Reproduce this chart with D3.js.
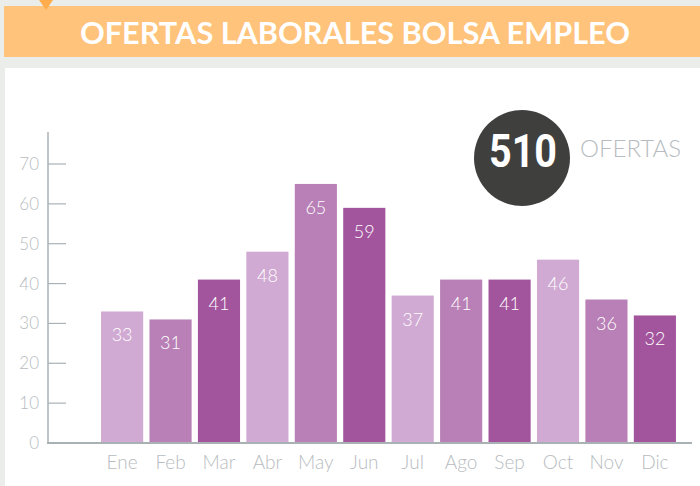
<!DOCTYPE html>
<html><head><meta charset="utf-8">
<script src="https://cdn.jsdelivr.net/npm/d3@7"></script>
<style>html,body{margin:0;padding:0;background:#ebedeb;}svg{display:block;}</style>
</head><body>
<script>
const months = ["Ene","Feb","Mar","Abr","May","Jun","Jul","Ago","Sep","Oct","Nov","Dic"];
const values = [33,31,41,48,65,59,37,41,41,46,36,32];
const yTicks = [0,10,20,30,40,50,60,70];
const palette = ["#d0aad2","#b880b6","#a2559d"];
const title = "OFERTAS LABORALES BOLSA EMPLEO";
const total = d3.sum(values);

const W = 700, H = 486;
const svg = d3.select("body").append("svg").attr("width", W).attr("height", H);
svg.append("rect").attr("width", W).attr("height", H).attr("fill", "#ebedeb");

// banner
svg.append("rect").attr("x", 4).attr("y", 6).attr("width", 696).attr("height", 51).attr("fill", "#ffc37c");
svg.append("path").attr("d", "M39,0 L53,0 L46,10 Z").attr("fill", "#ffad4c");
svg.append("text").attr("x", 355).attr("y", 44).attr("text-anchor", "middle")
  .attr("font-family", "Lato, 'Open Sans', sans-serif").attr("font-weight", 700)
  .attr("font-size", 31).attr("fill", "#ffffff")
  .attr("textLength", 550).attr("lengthAdjust", "spacingAndGlyphs").text(title);

// white panel
svg.append("rect").attr("x", 5).attr("y", 68).attr("width", 695).attr("height", 418).attr("fill", "#ffffff");

const y = d3.scaleLinear().domain([0, 70]).range([443, 164]);
const x = d3.scaleBand().domain(months).range([97.9, 679.1]).paddingInner(0.13).paddingOuter(0.065);
const axisColor = "#a9b1b5";
const labelColor = "#b7bcc0";

// bars
svg.selectAll("rect.bar").data(values).join("rect").attr("class", "bar")
  .attr("x", (d, i) => x(months[i])).attr("width", x.bandwidth())
  .attr("y", d => y(d)).attr("height", d => y(0) - y(d))
  .attr("fill", (d, i) => palette[i % 3]);

svg.selectAll("text.val").data(values).join("text").attr("class", "val")
  .attr("x", (d, i) => x(months[i]) + x.bandwidth() / 2)
  .attr("y", d => y(d) + 30)
  .attr("text-anchor", "middle").attr("fill", "#ffffff")
  .attr("font-family", "Lato, sans-serif").attr("font-weight", 300).attr("font-size", 18)
  .text(d => d);

// y axis
const gy = svg.append("g").attr("transform", "translate(48,0)");
gy.append("line").attr("x1", 0).attr("x2", 0).attr("y1", 132).attr("y2", 443)
  .attr("stroke", axisColor).attr("stroke-width", 1.5);
gy.selectAll("line.tk").data(yTicks.filter(t => t > 0)).join("line").attr("class", "tk")
  .attr("x1", 0).attr("x2", 18).attr("y1", d => y(d)).attr("y2", d => y(d))
  .attr("stroke", axisColor).attr("stroke-width", 1.2);
gy.selectAll("text.yl").data(yTicks).join("text").attr("class", "yl")
  .attr("x", -9).attr("y", d => y(d) + 6)
  .attr("text-anchor", "end").attr("fill", labelColor)
  .attr("font-family", "Lato, sans-serif").attr("font-weight", 300).attr("font-size", 17)
  .text(d => d);

// x baseline + labels
svg.append("line").attr("x1", 47).attr("x2", 692).attr("y1", 443).attr("y2", 443)
  .attr("stroke", axisColor).attr("stroke-width", 2);
svg.selectAll("text.xl").data(months).join("text").attr("class", "xl")
  .attr("x", d => x(d) + x.bandwidth() / 2).attr("y", 469)
  .attr("text-anchor", "middle").attr("fill", labelColor)
  .attr("font-family", "Lato, sans-serif").attr("font-weight", 300).attr("font-size", 19)
  .text(d => d);

// total badge
svg.append("circle").attr("cx", 522).attr("cy", 158).attr("r", 48).attr("fill", "#3f3f3e");
svg.append("text").attr("x", 523).attr("y", 167).attr("text-anchor", "middle")
  .attr("font-family", "Roboto, sans-serif").attr("font-weight", 700).attr("font-size", 47)
  .attr("fill", "#ffffff").attr("textLength", 68).attr("lengthAdjust", "spacingAndGlyphs").text(total);
svg.append("text").attr("x", 580).attr("y", 157)
  .attr("font-family", "Lato, sans-serif").attr("font-weight", 300).attr("font-size", 23)
  .attr("fill", labelColor).attr("textLength", 101).attr("lengthAdjust", "spacingAndGlyphs").text("OFERTAS");
</script>
</body></html>
